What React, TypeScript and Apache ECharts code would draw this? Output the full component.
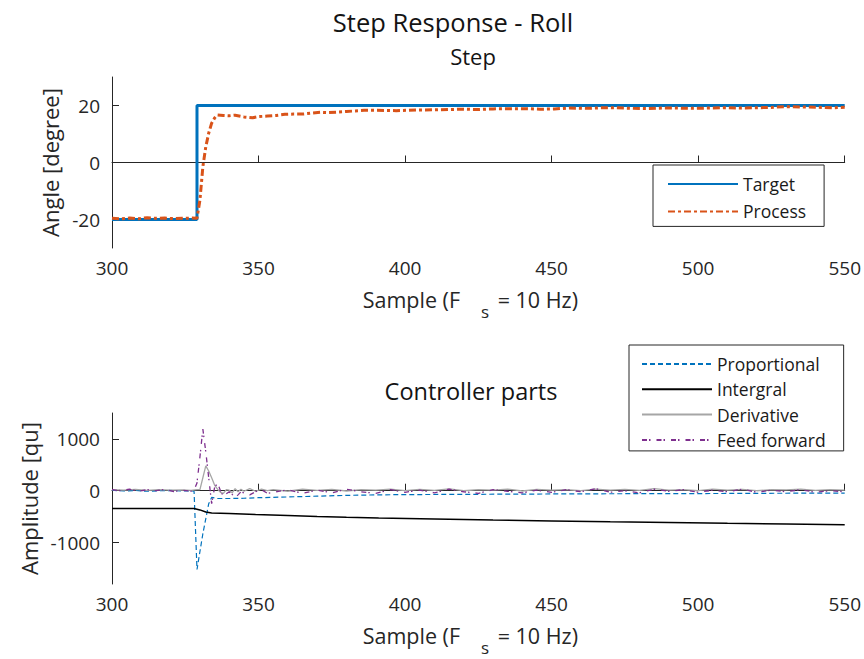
import React, { useEffect, useRef } from 'react';
import * as echarts from 'echarts';

const FONT = '"Open Sans", "Noto Sans", sans-serif';
const AXIS_COLOR = '#262626';

// ---------- Tick labels ----------
const topYTicks = [-20, 0, 20];
const bottomYTicks = [-1000, 0, 1000];

// ---------- Top plot: Step ----------
const targetX = [300, 329, 329, 550];
const targetY = [-20, -20, 20, 20];

const processX = [300, 303, 306, 309, 312, 315, 318, 321, 324, 327, 329, 330, 331, 332, 333, 334, 335, 336, 338, 340, 342, 345, 348, 350, 353, 356, 359, 362, 365, 368, 371, 374, 377, 380, 383, 386, 390, 397, 404, 410, 415, 420, 425, 430, 436, 441, 446, 451, 456, 462, 467, 472, 478, 483, 488, 493, 498, 504, 509, 514, 519, 524, 530, 535, 540, 546, 550];
const processY = [-19.6, -19.8, -19.5, -19.7, -19.4, -19.6, -19.5, -19.7, -19.6, -19.5, -19.6, -13.2, -1.5, 5.5, 10.3, 13.8, 15.6, 16.7, 16.5, 16.4, 16.6, 16.0, 15.7, 16.1, 16.3, 16.5, 16.9, 17.0, 17.0, 17.3, 17.6, 17.5, 17.7, 17.9, 18.1, 18.3, 18.3, 18.2, 18.4, 18.5, 18.6, 18.7, 18.6, 18.8, 18.9, 18.9, 18.7, 18.8, 19.1, 19.0, 19.2, 19.2, 19.0, 18.9, 19.1, 19.1, 19.0, 19.1, 19.2, 19.1, 19.2, 19.3, 19.6, 19.5, 19.4, 19.2, 19.4];

// ---------- Bottom plot: Controller parts ----------
const propX = [300, 304, 308, 312, 316, 320, 324, 327, 328, 329, 331, 333, 334, 336, 340, 345, 350, 360, 370, 380, 390, 400, 420, 440, 460, 480, 500, 520, 550];
const propY = [10, -5, 5, -10, 0, 5, -5, 0, -10, -1520, -830, -250, -130, -150, -150, -145, -135, -120, -105, -90, -80, -75, -70, -65, -60, -57, -55, -50, -45];

const intX = [300, 328, 330, 332, 334, 340, 349, 360, 370, 380, 391, 410, 430, 450, 470, 490, 510, 530, 550];
const intY = [-345, -345, -370, -410, -430, -440, -460, -478, -495, -510, -525, -545, -565, -583, -600, -615, -630, -643, -655];

const tailX = [355, 360, 365, 370, 375, 380, 385, 390, 395, 400, 405, 410, 415, 420, 425, 430, 435, 440, 445, 450, 455, 460, 465, 470, 475, 480, 485, 490, 495, 500, 505, 510, 515, 520, 525, 530, 535, 540, 545, 550];

const derivX = [300, 304, 308, 312, 316, 320, 324, 327, 329, 330, 331, 332, 333, 334, 335, 336, 337, 338, 339, 340, 341, 342, 343, 344, 345, 347, 349, 351, 353, ...tailX];
const derivY = [20, 10, 25, 5, 20, 10, 15, 5, 20, 20, 250, 480, 380, 250, 110, 30, -30, -50, 20, 10, -40, 40, -20, 30, -10, 40, -10, 30, 0,
  20, -10, 30, 5, 25, -5, 20, 10, 30, 0, 25, 5, 35, 0, 20, 10, 30, -5, 25, 10, 20, 0, 30, 10, 25, 5, 40, 10, 20, 0, 30, 10, 25, 0, 20, 15, 30, 5, 20, 10];

const ffX = [300, 303, 306, 309, 312, 315, 318, 321, 324, 327, 328, 329, 330, 331, 332, 333, 334, 335, 336, 337, 338, 339, 340, 341, 342, 343, 344, 345, 347, 349, 351, 353, ...tailX];
const ffY = [20, 0, 30, -10, 20, 0, 25, -15, 10, -10, 10, 150, 650, 1190, 750, 250, -250, 60, 150, 0, -110, -60, -20, -70, -130, -80, -20, -40, -80, -20, 20, -50,
  -30, 20, -50, 10, -40, 30, -20, -50, 20, -30, 10, -40, 30, -20, -50, 20, -10, -40, 10, -30, 20, -20, 40, -30, 0, -40, 30, -10, 20, -30, 10, -20, 30, -30, 10, -20, 20, -30, 0, -20];

const zip = (xs: number[], ys: number[]) => xs.map((x, i) => [x, ys[i]]);

const tickLabelStyle = {
  fontSize: 19,
  color: AXIS_COLOR,
  fontFamily: FONT,
  formatter: (v: number) => String(v),
};
const axisLine = { show: true, lineStyle: { color: AXIS_COLOR, width: 1 } };

const xAxisCommon = {
  type: 'value',
  min: 300,
  max: 550,
  interval: 50,
  axisLine,
  axisTick: { show: true, inside: true, length: 7, lineStyle: { color: AXIS_COLOR } },
  axisLabel: { ...tickLabelStyle, margin: 10 },
  splitLine: { show: false },
  name: 'Sample (F{sub|s} = 10 Hz)',
  nameLocation: 'middle',
  nameGap: 40,
  nameTextStyle: {
    fontSize: 21.5,
    color: AXIS_COLOR,
    fontFamily: FONT,
    padding: [0, 16, 0, 0],
    rich: {
      sub: { fontSize: 17, lineHeight: 12, color: AXIS_COLOR, fontFamily: FONT, padding: [24, 3, 0, 21] },
    },
  },
};

const titleStyle = { fontWeight: 'normal', color: '#141414', fontFamily: FONT };

const legendCommon = {
  orient: 'vertical',
  itemWidth: 70,
  itemHeight: 14,
  selectedMode: false,
  backgroundColor: '#ffffff',
  borderColor: AXIS_COLOR,
  borderWidth: 1,
  borderRadius: 0,
  itemStyle: { opacity: 0 },
  textStyle: { fontSize: 17.5, color: '#1a1a1a', fontFamily: FONT, lineHeight: 18 },
};

const option = {
  animation: false,
  textStyle: { fontFamily: FONT },
  title: [
    { text: 'Step Response - Roll', left: 448, top: 4, textAlign: 'center', textStyle: { ...titleStyle, fontSize: 25.5 } },
    { text: 'Step', left: 468, top: 40, textAlign: 'center', textStyle: { ...titleStyle, fontSize: 22 } },
    { text: 'Controller parts', left: 466, top: 374, textAlign: 'center', textStyle: { ...titleStyle, fontSize: 23.5 } },
  ],
  grid: [
    { left: 112, right: 18, top: 77, height: 171 },
    { left: 112, right: 18, top: 413, height: 171 },
  ],
  xAxis: [
    { ...xAxisCommon, gridIndex: 0 },
    { ...xAxisCommon, gridIndex: 1 },
  ],
  yAxis: [
    {
      gridIndex: 0,
      type: 'value',
      min: -30,
      max: 30,
      axisLine,
      axisTick: { show: true, inside: true, length: 7, customValues: topYTicks, lineStyle: { color: AXIS_COLOR } },
      axisLabel: { ...tickLabelStyle, margin: 12, customValues: topYTicks },
      splitLine: { show: false },
      name: 'Angle [degree]',
      nameLocation: 'middle',
      nameGap: 41,
      nameTextStyle: { fontSize: 22, color: AXIS_COLOR, fontFamily: FONT },
    },
    {
      gridIndex: 1,
      type: 'value',
      min: -1800,
      max: 1500,
      axisLine,
      axisTick: { show: true, inside: true, length: 7, customValues: bottomYTicks, lineStyle: { color: AXIS_COLOR } },
      axisLabel: { ...tickLabelStyle, margin: 12, customValues: bottomYTicks },
      splitLine: { show: false },
      name: 'Amplitude [qu]',
      nameLocation: 'middle',
      nameGap: 59,
      nameTextStyle: { fontSize: 22, color: AXIS_COLOR, fontFamily: FONT },
    },
  ],
  legend: [
    {
      ...legendCommon,
      data: ['Target', 'Process'],
      left: 653,
      top: 165,
      padding: [10, 18, 6, 14],
      itemGap: 9.4,
    },
    {
      ...legendCommon,
      data: ['Proportional', 'Intergral', 'Derivative', 'Feed forward'],
      left: 629,
      top: 345,
      padding: [10, 18, 2, 12],
      itemGap: 7.3,
    },
  ],
  series: [
    {
      name: 'Target',
      type: 'line',
      xAxisIndex: 0,
      yAxisIndex: 0,
      data: zip(targetX, targetY),
      symbol: 'none',
      itemStyle: { color: '#0072BD' },
      lineStyle: { color: '#0072BD', width: 3 },
    },
    {
      name: 'Process',
      type: 'line',
      xAxisIndex: 0,
      yAxisIndex: 0,
      data: zip(processX, processY),
      symbol: 'none',
      itemStyle: { color: '#D95319' },
      lineStyle: { color: '#D95319', width: 3, type: [7, 3, 3, 3] },
    },
    {
      name: 'Proportional',
      type: 'line',
      xAxisIndex: 1,
      yAxisIndex: 1,
      data: zip(propX, propY),
      symbol: 'none',
      itemStyle: { color: '#0072BD' },
      lineStyle: { color: '#0072BD', width: 1.2, type: [5, 3] },
    },
    {
      name: 'Intergral',
      type: 'line',
      xAxisIndex: 1,
      yAxisIndex: 1,
      data: zip(intX, intY),
      symbol: 'none',
      itemStyle: { color: '#000000' },
      lineStyle: { color: '#000000', width: 1.5 },
    },
    {
      name: 'Derivative',
      type: 'line',
      xAxisIndex: 1,
      yAxisIndex: 1,
      data: zip(derivX, derivY),
      symbol: 'none',
      itemStyle: { color: '#A6A6A6' },
      lineStyle: { color: '#A6A6A6', width: 1.3 },
    },
    {
      name: 'Feed forward',
      type: 'line',
      xAxisIndex: 1,
      yAxisIndex: 1,
      data: zip(ffX, ffY),
      symbol: 'none',
      itemStyle: { color: '#7E2F8E' },
      lineStyle: { color: '#7E2F8E', width: 1.3, type: [5, 2, 1.5, 6] },
    },
  ],
};

export default function App() {
  const ref = useRef<HTMLDivElement>(null);
  useEffect(() => {
    const chart = echarts.init(ref.current!, null, { renderer: 'svg' });
    chart.setOption(option as any);
    return () => chart.dispose();
  }, []);
  return (
    <div
      ref={ref}
      style={{ position: 'fixed', left: 0, top: 0, width: 864, height: 659, background: '#ffffff' }}
    />
  );
}
